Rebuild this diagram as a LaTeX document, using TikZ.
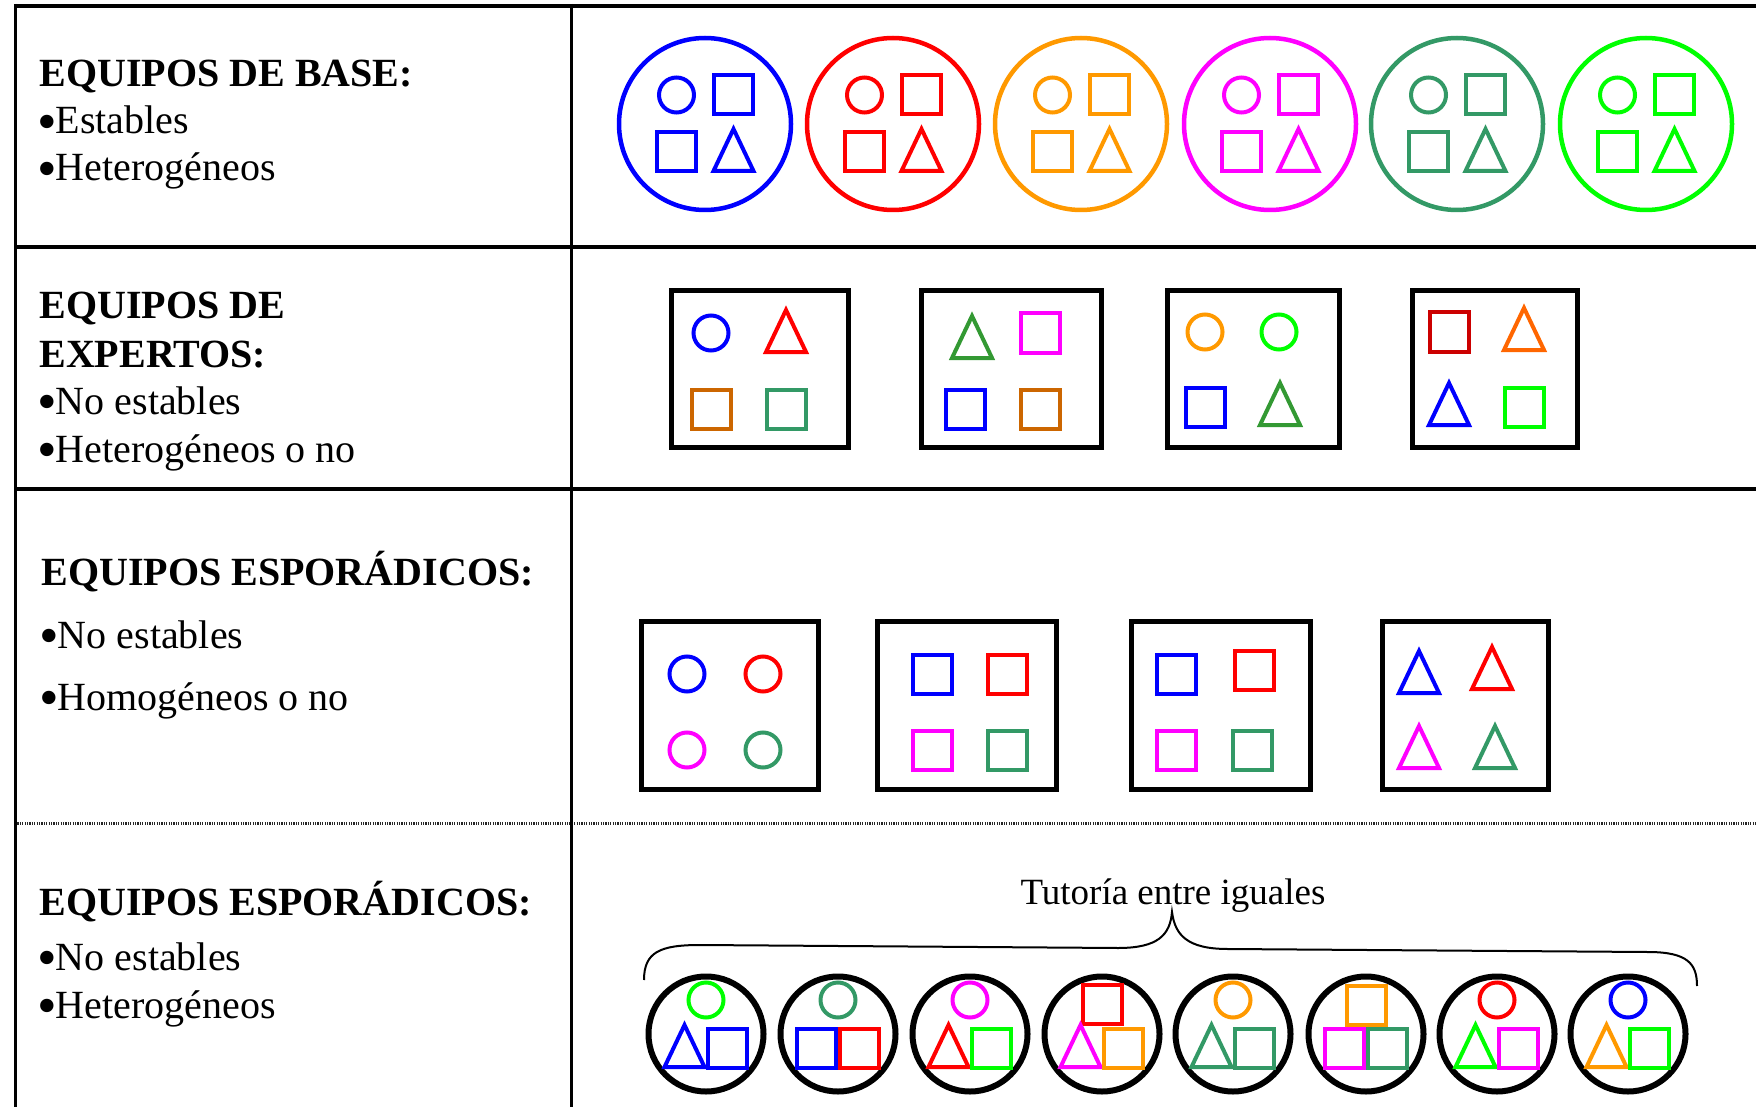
\documentclass[tikz,border=0pt]{standalone}
\usepackage{fontspec}
\setmainfont{Liberation Serif}
\usepackage{xcolor}
\usepackage{graphicx}
\usepackage{tikz}
\usetikzlibrary{positioning}
\definecolor{cblue}{RGB}{0,0,255}
\definecolor{cred}{RGB}{255,0,0}
\definecolor{corange}{RGB}{255,153,0}
\definecolor{cmagenta}{RGB}{255,0,255}
\definecolor{cseagreen}{RGB}{51,153,102}
\definecolor{cgreen}{RGB}{0,255,0}
\definecolor{cbrown}{RGB}{204,102,0}
\definecolor{cdkgreen}{RGB}{51,153,51}
\definecolor{cdkred}{RGB}{204,0,0}
\definecolor{corangered}{RGB}{255,102,0}

% big list bullet
\newcommand{\bul}{\kern-1pt\raisebox{-3.2pt}{\scalebox{1.4}{•}}\kern-0.6pt}
% small member pieces: colour, x, y (pixel units)
\newcommand{\pcirc}[3]{\draw[piece, #1] (#2,#3) circle[radius=17.5];}
\newcommand{\psq}[3]{\draw[piece, #1] (#2,#3) ++(-19.5,-19.5) rectangle ++(39,39);}
\newcommand{\ptri}[3]{\draw[piece, #1] (#2,#3) ++(0,-23) -- ++(20,42) -- ++(-40,0) -- cycle;}

\begin{document}
\begin{tikzpicture}[x=0.5pt, y=-0.5pt,
  piece/.style={line width=2pt, line join=miter},
  rule/.style={line width=2pt},
  colrule/.style={line width=1.5pt},
  head/.style={anchor=base west, inner sep=0pt, font=\fontsize{20}{24}\selectfont\bfseries},
  item/.style={anchor=base west, inner sep=0pt, font=\fontsize{20}{24}\selectfont},
  baseteam/.style={circle, draw, line width=2.25pt, minimum size=86pt, inner sep=0pt},
  tutorteam/.style={circle, draw=black, line width=3pt, minimum size=57.5pt, inner sep=0pt},
  teambox/.style={rectangle, draw=black, line width=2.5pt, inner sep=0pt}]

\useasboundingbox (0,0) rectangle (1756,1107);

%% ── table rules ──────────────────────────────────────────────────
\draw[rule] (15,6) -- (1756,6);
\draw[rule] (15,247) -- (1756,247);
\draw[rule] (15,489) -- (1756,489);
\draw[line width=1.5pt, dash pattern=on 0.6pt off 0.6pt, black!85] (15,823) -- (1756,823);
\draw[colrule] (15,4) -- (15,1107);
\draw[colrule] (571,4) -- (571,1107);

%% ── left column texts ────────────────────────────────────────────
\node[head] (t1) at (39,87)  {EQUIPOS DE BASE:};
\node[item] (t1a) at (39,134) {\bul Estables};
\node[item] (t1b) at (39,181) {\bul Heterogéneos};

\node[head] (t2) at (39,319)  {EQUIPOS DE};
\node[head] (t2x) at (39,367) {EXPERTOS:};
\node[item] (t2a) at (39,414) {\bul No estables};
\node[item] (t2b) at (39,462) {\bul Heterogéneos o no};

\node[head] (t3) at (41,585)  {EQUIPOS ESPORÁDICOS:};
\node[item] (t3a) at (41,648) {\bul No estables};
\node[item] (t3b) at (41,710) {\bul Homogéneos o no};

\node[head] (t4) at (39,915)  {EQUIPOS ESPORÁDICOS:};
\node[item] (t4a) at (39,970) {\bul No estables};
\node[item] (t4b) at (39,1018) {\bul Heterogéneos};

%% ── base teams (one colour each) ─────────────────────────────────
\foreach \x/\c [count=\i] in {705/cblue, 893/cred, 1081/corange, 1270/cmagenta, 1457/cseagreen, 1646/cgreen}{
  \node[baseteam, draw=\c] (base\i) at (\x,124) {};
  \pcirc{\c}{\x-28.5}{95}
  \psq{\c}{\x+28.5}{95}
  \psq{\c}{\x-28.5}{152}
  \ptri{\c}{\x+28.5}{152}
}

%% ── expert teams ─────────────────────────────────────────────────
\node[teambox, minimum width=88.5pt, minimum height=78pt] (exp1) at (759.5,369) {};
\node[teambox, minimum width=90pt, minimum height=78pt] (exp2) at (1011,369) {};
\node[teambox, minimum width=86pt, minimum height=78pt] (exp3) at (1253,369) {};
\node[teambox, minimum width=82.5pt, minimum height=78pt] (exp4) at (1494.5,369) {};

\pcirc{cblue}{711}{333}   \ptri{cred}{786}{333}
\psq{cbrown}{711}{409}    \psq{cseagreen}{786}{409}
\ptri{cdkgreen}{972}{339} \psq{cmagenta}{1040}{333}
\psq{cblue}{965}{409}     \psq{cbrown}{1040}{409}
\pcirc{corange}{1205}{332} \pcirc{cgreen}{1279}{332}
\psq{cblue}{1205}{407}    \ptri{cdkgreen}{1280}{406}
\psq{cdkred}{1449}{332}   \ptri{corangered}{1524}{331}
\ptri{cblue}{1449}{406}   \psq{cgreen}{1524}{407}

%% ── sporadic teams ───────────────────────────────────────────────
\node[teambox, minimum width=88.5pt, minimum height=84pt] (spo1) at (729.5,705) {};
\node[teambox, minimum width=89.5pt, minimum height=84pt] (spo2) at (966.5,705) {};
\node[teambox, minimum width=89.5pt, minimum height=84pt] (spo3) at (1220.5,705) {};
\node[teambox, minimum width=83pt, minimum height=84pt] (spo4) at (1465,705) {};

\pcirc{cblue}{687}{674}   \pcirc{cred}{763}{674}
\pcirc{cmagenta}{687}{750} \pcirc{cseagreen}{763}{750}
\psq{cblue}{932}{674}     \psq{cred}{1007}{674}
\psq{cmagenta}{932}{750}  \psq{cseagreen}{1007}{750}
\psq{cblue}{1176}{674}    \psq{cred}{1254}{670}
\psq{cmagenta}{1176}{750} \psq{cseagreen}{1252}{750}
\ptri{cblue}{1419}{674}   \ptri{cred}{1492}{670}
\ptri{cmagenta}{1419}{749} \ptri{cseagreen}{1495}{749}

%% ── peer tutoring pairs ──────────────────────────────────────────
\node[anchor=base, inner sep=0pt, font=\fontsize{18.5}{22}\selectfont] (tut) at (1173,904) {Tutoría entre iguales};
\draw[line width=1pt]
  (644,980) .. controls (644,952) and (660,945) .. (700,945) -- (1118,948)
  .. controls (1158,948) and (1170,935) .. (1172,912)
  .. controls (1175,935) and (1187,949) .. (1228,949) -- (1648,952)
  .. controls (1688,952) and (1697,964) .. (1697,986);

\foreach \x [count=\i] in {706,838,970,1102,1233,1366,1497,1628}{
  \node[tutorteam] (tut\i) at (\x,1034) {};
}
\pcirc{cgreen}{706}{1000}    \ptri{cblue}{684.5}{1048}    \psq{cblue}{727.5}{1048}
\pcirc{cseagreen}{838}{1000} \psq{cblue}{816.5}{1048}     \psq{cred}{859.5}{1048}
\pcirc{cmagenta}{970}{1000}  \ptri{cred}{948.5}{1048}     \psq{cgreen}{991.5}{1048}
\psq{cred}{1102}{1004}       \ptri{cmagenta}{1080.5}{1048} \psq{corange}{1123.5}{1048}
\pcirc{corange}{1233}{1000}  \ptri{cseagreen}{1211.5}{1048} \psq{cseagreen}{1254.5}{1048}
\psq{corange}{1366}{1005}    \psq{cmagenta}{1344.5}{1048} \psq{cseagreen}{1387.5}{1048}
\pcirc{cred}{1497}{1000}     \ptri{cgreen}{1475.5}{1048}  \psq{cmagenta}{1518.5}{1048}
\pcirc{cblue}{1628}{1000}    \ptri{corange}{1606.5}{1048} \psq{cgreen}{1649.5}{1048}

\end{tikzpicture}
\end{document}
